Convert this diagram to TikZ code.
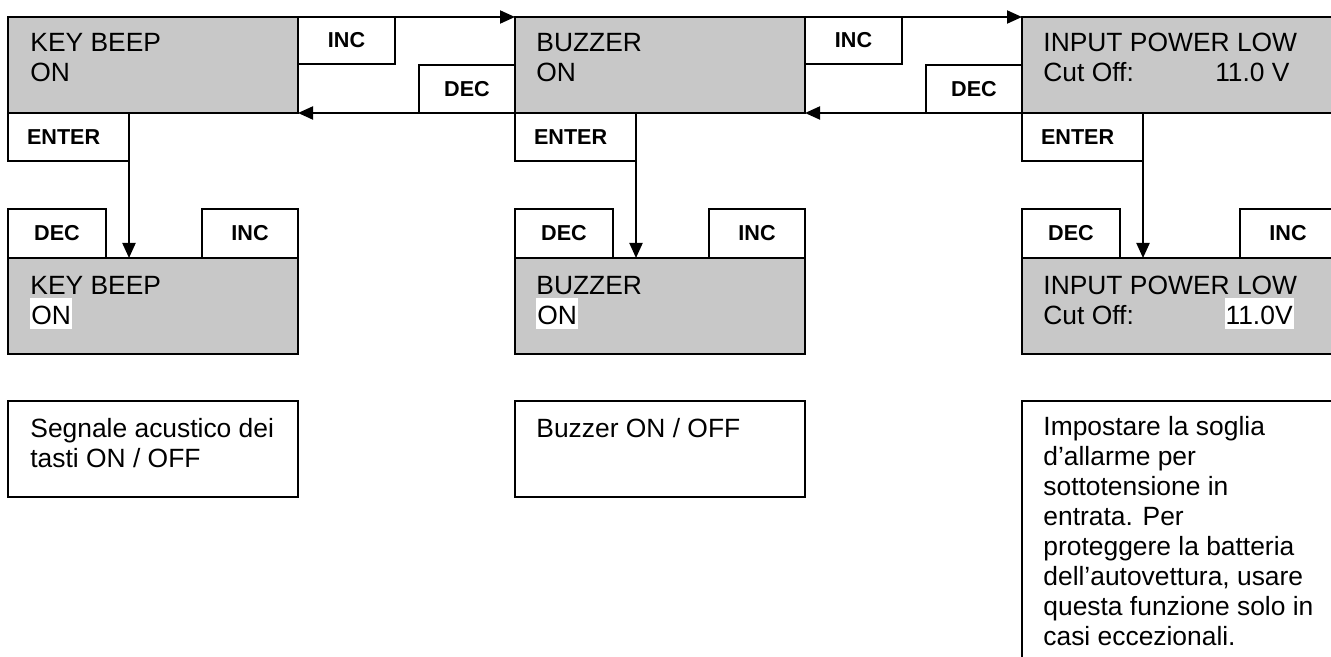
\documentclass[tikz,border=0pt]{standalone}
\usepackage{fontspec}
\setmainfont{Liberation Sans}
\usetikzlibrary{arrows.meta}
\definecolor{lcdgray}{RGB}{200,200,200}

\begin{document}
\begin{tikzpicture}[
			x=0.5pt, y=-0.5pt,
			lcd/.style={draw, line width=1pt, fill=lcdgray, anchor=north west, inner sep=0pt, outer sep=0pt, minimum width=145pt, minimum height=48pt},
			widelcd/.style={lcd, minimum width=157pt},
			key/.style={draw, line width=1pt, fill=white, anchor=north west, inner sep=0pt, outer sep=0pt, font=\bfseries\fontsize{10.8}{13}\selectfont},
			topinc/.style={key, minimum width=48.5pt, minimum height=23.5pt},
			topdec/.style={key, minimum width=48pt, minimum height=24pt},
			enterkey/.style={key, inner xsep=9.5pt, text width=41.5pt, align=left, minimum height=24pt},
			lowdec/.style={key, minimum width=49pt, minimum height=24.5pt},
			lowinc/.style={key, minimum width=48pt, minimum height=24.5pt},
			descbox/.style={draw, line width=1pt, anchor=north west, inner sep=0pt, outer sep=0pt, minimum width=145pt, minimum height=48pt},
			txt/.style={anchor=base west, inner sep=0pt, font=\fontsize{13.2}{15}\selectfont},
			hilite/.style={txt, fill=white, inner xsep=0.5pt, text height=13pt, text depth=2.5pt},
			note/.style={anchor=north west, inner sep=0pt, align=left, font=\fontsize{13.2}{15}\selectfont},
			myarrow/.style={-{Triangle[length=7.5pt, width=6.5pt]}, line width=1pt, black}
			]
			\useasboundingbox (0,0) rectangle (1331,657);
			\clip (0,0) rectangle (1331,657);
			% KEY BEEP
			\node[lcd] (beep) at (8,17) {};
			\node[txt] at (30,52) {KEY BEEP};
			\node[txt] at (30,82) {ON};
			\node[topinc] (beepinc) at (298,17) {INC};
			\node[topdec] (beepdec) at (419,65) {DEC};
			\node[enterkey] (beepenter) at (8,113) {ENTER};
			\node[lowdec] (setbeepdec) at (8,209) {DEC};
			\node[lowinc] (setbeepinc) at (202,209) {INC};
			\node[lcd] (setbeep) at (8,258) {};
			\node[txt] at (30,294) {KEY BEEP};
			\node[hilite] at (30,324) {ON};
			\node[descbox] (beepnote) at (8,401) {};
			\node[note] at (30,418) {Segnale acustico dei\\tasti ON / OFF};
			% BUZZER
			\node[lcd] (buzz) at (515,17) {};
			\node[txt] at (536,52) {BUZZER};
			\node[txt] at (536,82) {ON};
			\node[topinc] (buzzinc) at (805,17) {INC};
			\node[topdec] (buzzdec) at (926,65) {DEC};
			\node[enterkey] (buzzenter) at (515,113) {ENTER};
			\node[lowdec] (setbuzzdec) at (515,209) {DEC};
			\node[lowinc] (setbuzzinc) at (709,209) {INC};
			\node[lcd] (setbuzz) at (515,258) {};
			\node[txt] at (536,294) {BUZZER};
			\node[hilite] at (536,324) {ON};
			\node[descbox] (buzznote) at (515,401) {};
			\node[note] at (536,418) {Buzzer ON / OFF};
			% INPUT POWER LOW
			\node[widelcd] (power) at (1022,17) {};
			\node[txt] at (1043,52) {INPUT POWER LOW};
			\node[txt] at (1043,82) {Cut Off:};
			\node[txt, anchor=base east] at (1290,82) {11.0 V};
			\node[enterkey] (powerenter) at (1022,113) {ENTER};
			\node[lowdec] (setpowerdec) at (1022,209) {DEC};
			\node[lowinc] (setpowerinc) at (1240,209) {INC};
			\node[widelcd] (setpower) at (1022,258) {};
			\node[txt] at (1043,294) {INPUT POWER LOW};
			\node[txt] at (1043,324) {Cut Off:};
			\node[hilite, anchor=base east] at (1294,324) {11.0V};
			\node[descbox, minimum width=157pt, minimum height=140pt] (powernote) at (1022,401) {};
			\node[note] at (1043,416) {Impostare la soglia\\d’allarme per\\sottotensione in\\entrata. Per\\proteggere la batteria\\dell’autovettura, usare\\questa funzione solo in\\casi eccezionali.};
			% INC / DEC / ENTER
			\draw[myarrow] (beep.north east) -- (buzz.north west);
			\draw[myarrow] (buzz.south west) -- (beep.south east);
			\draw[myarrow] (buzz.north east) -- (power.north west);
			\draw[myarrow] (power.south west) -- (buzz.south east);
			\draw[myarrow] (beepenter.south east) -- (beepenter.south east |- setbeep.north);
			\draw[myarrow] (buzzenter.south east) -- (buzzenter.south east |- setbuzz.north);
			\draw[myarrow] (powerenter.south east) -- (powerenter.south east |- setpower.north);
		\end{tikzpicture}
\end{document}
